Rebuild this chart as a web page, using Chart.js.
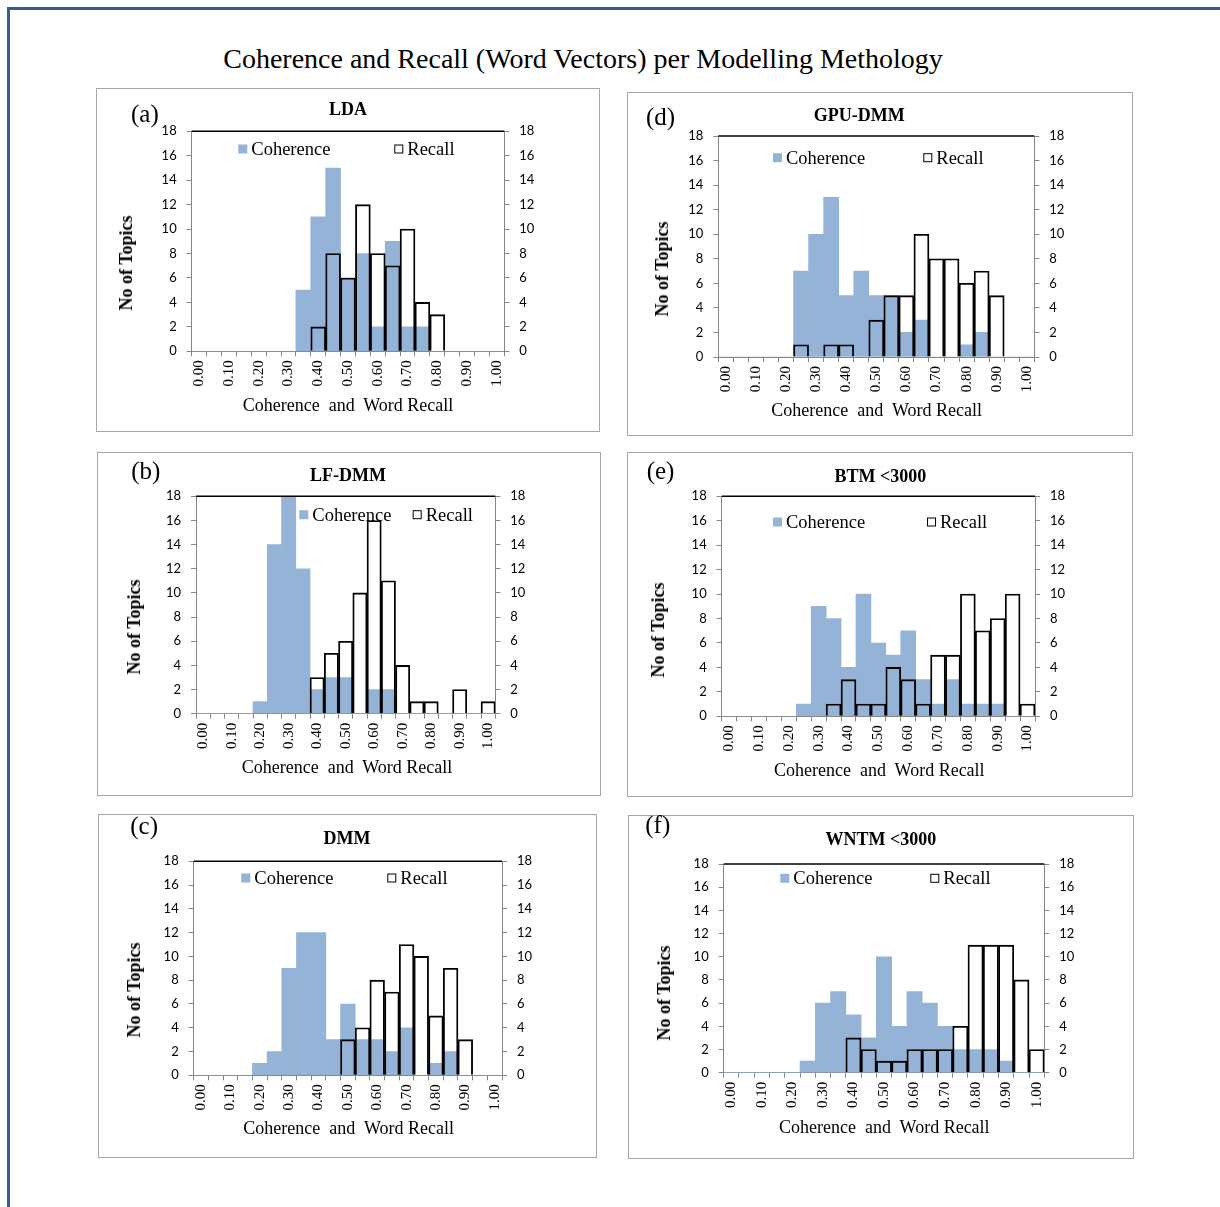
<!DOCTYPE html>
<html>
<head>
<meta charset="utf-8">
<script src="https://cdn.jsdelivr.net/npm/chart.js@4.4.0/dist/chart.umd.min.js"></script>
<style>
  body { margin: 0; background: #fff; }
  #page { position: relative; width: 1220px; height: 1207px; overflow: hidden; background: #fff; }
  .frame-top { position: absolute; left: 7px; top: 7px; right: 0; height: 3px; background: #365f91; }
  .frame-left { position: absolute; left: 7px; top: 7px; width: 3px; bottom: 0; background: #365f91; }
  .box { position: absolute; border: 1px solid #a6a6a6; box-sizing: border-box; }
  canvas { position: absolute; }
  .txt { position: absolute; font-family: 'Liberation Serif', 'Times New Roman', serif; color: #000; white-space: pre; line-height: 1; }
  .main-title { font-size: 28px; transform: translate(-50%, -50%); }
  .letter { font-size: 25px; transform: translateY(-50%); }
  .ptitle { font-size: 18px; font-weight: bold; transform: translate(-50%, -50%); }
  .ytitle { font-size: 18px; font-weight: bold; transform: translate(-50%, -50%) rotate(-90deg); }
  .xtitle { font-size: 18px; transform: translate(-50%, -50%); }
</style>
</head>
<body>
<div id="page">
  <div class="frame-top"></div>
  <div class="frame-left"></div>
  <div class="txt main-title" style="left:583px; top:59px;">Coherence and Recall (Word Vectors) per Modelling Methology</div>
</div>
<script>
// bins of 0.05, labels shown every 0.10
const binLabels = ['0.00', '0.05', '0.10', '0.15', '0.20', '0.25', '0.30', '0.35', '0.40', '0.45', '0.50',
                   '0.55', '0.60', '0.65', '0.70', '0.75', '0.80', '0.85', '0.90', '0.95', '1.00'];

const ldaCoherence   = [0, 0, 0, 0, 0, 0, 0, 5, 11, 15, 6, 8, 2, 9, 2, 2, 0, 0, 0, 0, 0];
const ldaRecall      = [0, 0, 0, 0, 0, 0, 0, 0, 2, 8, 6, 12, 8, 7, 10, 4, 3, 0, 0, 0, 0];

const lfdmmCoherence = [0, 0, 0, 0, 1, 14, 18, 12, 2, 3, 3, 0, 2, 2, 0, 0, 0, 0, 0, 0, 0];
const lfdmmRecall    = [0, 0, 0, 0, 0, 0, 0, 0, 3, 5, 6, 10, 16, 11, 4, 1, 1, 0, 2, 0, 1];

const dmmCoherence   = [0, 0, 0, 0, 1, 2, 9, 12, 12, 3, 6, 3, 3, 2, 4, 0, 1, 2, 0, 0, 0];
const dmmRecall      = [0, 0, 0, 0, 0, 0, 0, 0, 0, 0, 3, 4, 8, 7, 11, 10, 5, 9, 3, 0, 0];

const gpuCoherence   = [0, 0, 0, 0, 0, 7, 10, 13, 5, 7, 5, 5, 2, 3, 0, 0, 1, 2, 0, 0, 0];
const gpuRecall      = [0, 0, 0, 0, 0, 1, 0, 1, 1, 0, 3, 5, 5, 10, 8, 8, 6, 7, 5, 0, 0];

const btmCoherence   = [0, 0, 0, 0, 0, 1, 9, 8, 4, 10, 6, 5, 7, 3, 1, 3, 1, 1, 1, 0, 0];
const btmRecall      = [0, 0, 0, 0, 0, 0, 0, 1, 3, 1, 1, 4, 3, 1, 5, 5, 10, 7, 8, 10, 1];

const wntmCoherence  = [0, 0, 0, 0, 0, 1, 6, 7, 5, 3, 10, 4, 7, 6, 4, 2, 2, 2, 1, 0, 0];
const wntmRecall     = [0, 0, 0, 0, 0, 0, 0, 0, 3, 2, 1, 1, 2, 2, 2, 4, 11, 11, 11, 8, 2];

const colorCoherence = '#95b3d7';
const colorAxis = '#868686';

// layout of each panel on the page (box = frame, plot = plot area, legend = offsets inside plot)
const paneles = [
    { letra: '(a)', titulo: 'LDA', coh: ldaCoherence, rec: ldaRecall,
      box: [96, 88, 504, 344], plot: [191.7, 131.3, 504.3, 351.3], legend: [46.6, 202.6, 17.7],
      letraPos: [131, 113], tituloPos: [348, 108.7], yPos: [126, 263], xPos: [348, 404.7] },
    { letra: '(b)', titulo: 'LF-DMM', coh: lfdmmCoherence, rec: lfdmmRecall,
      box: [97, 452, 504, 344], plot: [196, 496.3, 495.3, 713.7], legend: [103.3, 216.7, 18.4],
      letraPos: [131.3, 470], tituloPos: [348, 475.3], yPos: [133.7, 627], xPos: [347, 767] },
    { letra: '(c)', titulo: 'DMM', coh: dmmCoherence, rec: dmmRecall,
      box: [98, 814, 499, 344], plot: [193.7, 861.3, 502, 1075.3], legend: [47.6, 193.6, 16.7],
      letraPos: [130.3, 824.7], tituloPos: [347, 838], yPos: [134, 989.7], xPos: [348.7, 1128] },
    { letra: '(d)', titulo: 'GPU-DMM', coh: gpuCoherence, rec: gpuRecall,
      box: [627, 92, 506, 344], plot: [718.3, 136, 1034.3, 357], legend: [54.7, 205, 21.7],
      letraPos: [646, 116], tituloPos: [859.3, 114.7], yPos: [662, 268.7], xPos: [876.7, 410.3] },
    { letra: '(e)', titulo: 'BTM <3000', coh: btmCoherence, rec: btmRecall,
      box: [627, 452, 506, 345], plot: [721.7, 496.3, 1035, 716.3], legend: [51.3, 205.3, 25.7],
      letraPos: [646.7, 470.3], tituloPos: [880.3, 476], yPos: [658.3, 630.3], xPos: [879.3, 770.3] },
    { letra: '(f)', titulo: 'WNTM <3000', coh: wntmCoherence, rec: wntmRecall,
      box: [628, 815, 506, 344], plot: [723.7, 864, 1044.3, 1072.7], legend: [56.6, 206.6, 14.3],
      letraPos: [645.3, 824.3], tituloPos: [881, 839], yPos: [664.3, 993.3], xPos: [884.3, 1127.3] }
];

// legend drawn inside the plot area, like the Excel original
const leyendaInterna = {
    id: 'leyendaInterna',
    afterDatasetsDraw(chart, args, opts) {
        const ctx = chart.ctx;
        const area = chart.chartArea;
        ctx.save();
        ctx.font = '18.5px "Liberation Serif"';
        ctx.textBaseline = 'middle';
        chart.data.datasets.forEach((ds, i) => {
            const x = area.left + opts.x[i];
            const y = area.top + opts.y;
            if (ds.borderWidth > 0) {
                ctx.fillStyle = '#fff';
                ctx.fillRect(x, y - 4.5, 9, 9);
                ctx.strokeStyle = '#000';
                ctx.lineWidth = 1;
                ctx.strokeRect(x + 0.5, y - 4, 8, 8);
            } else {
                ctx.fillStyle = ds.backgroundColor;
                ctx.fillRect(x, y - 4.5, 9, 9);
            }
            ctx.fillStyle = '#000';
            ctx.fillText(ds.label, x + 13, y + 1);
        });
        ctx.restore();
    }
};

// black top edge of the plot area
const bordeSuperior = {
    id: 'bordeSuperior',
    afterDraw(chart) {
        const ctx = chart.ctx;
        const a = chart.chartArea;
        ctx.save();
        ctx.strokeStyle = '#000';
        ctx.lineWidth = 1.5;
        ctx.beginPath();
        ctx.moveTo(a.left, a.top);
        ctx.lineTo(a.right, a.top);
        ctx.stroke();
        ctx.restore();
    }
};

function agregarTexto(page, cls, txt, pos) {
    const d = document.createElement('div');
    d.className = 'txt ' + cls;
    d.textContent = txt;
    d.style.left = pos[0] + 'px';
    d.style.top = pos[1] + 'px';
    page.appendChild(d);
}

function ejeY(posicion, ancho) {
    return {
        position: posicion,
        min: 0,
        max: 18,
        ticks: { stepSize: 2, color: '#000', font: { family: 'Lato', size: 13 }, padding: 10 },
        grid: { drawOnChartArea: false, tickLength: 5, color: colorAxis },
        border: { color: colorAxis, width: 1 },
        afterFit: (scale) => { scale.width = ancho; }
    };
}

function crearPanel(p) {
    const page = document.getElementById('page');
    const [bx, by, bw, bh] = p.box;
    const [pl, pt, pr, pb] = p.plot;

    const marco = document.createElement('div');
    marco.className = 'box';
    marco.style.left = bx + 'px';
    marco.style.top = by + 'px';
    marco.style.width = bw + 'px';
    marco.style.height = bh + 'px';
    page.appendChild(marco);

    const canvas = document.createElement('canvas');
    canvas.width = bw;
    canvas.height = bh;
    canvas.style.left = bx + 'px';
    canvas.style.top = by + 'px';
    page.appendChild(canvas);

    agregarTexto(page, 'letter', p.letra, p.letraPos);
    agregarTexto(page, 'ptitle', p.titulo, p.tituloPos);
    agregarTexto(page, 'ytitle', 'No of Topics', p.yPos);
    agregarTexto(page, 'xtitle', 'Coherence  and  Word Recall', p.xPos);

    new Chart(canvas.getContext('2d'), {
        type: 'bar',
        data: {
            labels: binLabels,
            datasets: [
                {
                    label: 'Coherence',
                    data: p.coh,
                    backgroundColor: colorCoherence,
                    borderWidth: 0,
                    order: 2
                },
                {
                    label: 'Recall',
                    data: p.rec,
                    backgroundColor: 'rgba(255,255,255,0)',
                    borderColor: '#000',
                    borderWidth: 1.2,
                    order: 1
                }
            ]
        },
        options: {
            responsive: false,
            animation: false,
            devicePixelRatio: 1,
            layout: { padding: { top: pt - by, left: 0, right: 0, bottom: 0 } },
            datasets: { bar: { grouped: false, categoryPercentage: 1, barPercentage: 1 } },
            plugins: {
                legend: { display: false },
                tooltip: { enabled: false },
                leyendaInterna: { x: [p.legend[0], p.legend[1]], y: p.legend[2] }
            },
            scales: {
                x: {
                    offset: true,
                    grid: { offset: true, drawOnChartArea: false, tickLength: 5, color: colorAxis },
                    border: { color: colorAxis, width: 1 },
                    ticks: {
                        autoSkip: false,
                        minRotation: 90,
                        maxRotation: 90,
                        padding: 4,
                        color: '#000',
                        font: { family: 'Liberation Serif', size: 15 },
                        callback: (v, i) => (i % 2 === 0 ? binLabels[i] : '')
                    },
                    afterFit: (scale) => { scale.height = by + bh - pb; }
                },
                y: ejeY('left', pl - bx),
                y2: ejeY('right', bx + bw - pr)
            }
        },
        plugins: [leyendaInterna, bordeSuperior]
    });
}

paneles.forEach(crearPanel);
</script>
</body>
</html>
